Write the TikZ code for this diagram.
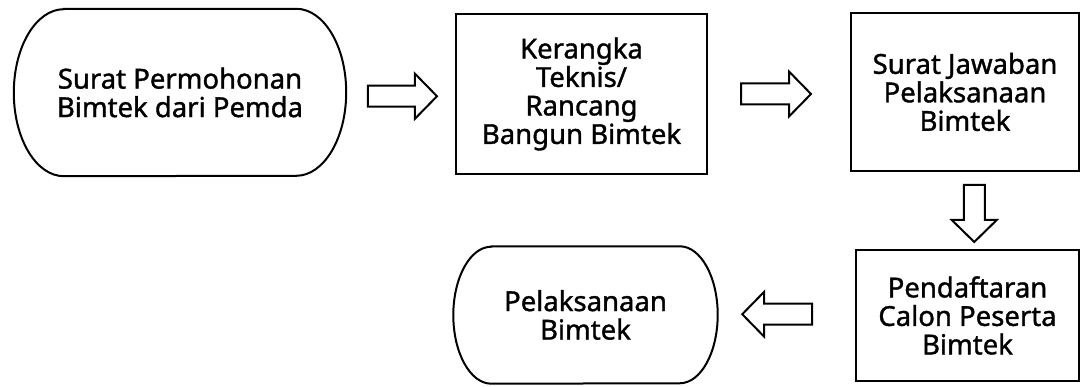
\documentclass[tikz,border=0pt]{standalone}
\usepackage{fontspec}
\setmainfont{Noto Sans}[FakeBold=1.3]
\usepackage{tikz}
\usetikzlibrary{calc}

\begin{document}
\begin{tikzpicture}[x=1pt,y=1pt,
  box/.style={draw,line width=2.5pt,align=center,inner sep=0pt},
  term/.style={align=center,inner sep=0pt},
  termline/.style={line width=2pt},
  blockarrow/.pic={
    \draw[line width=2pt,fill=white,line join=miter]
      (-#1/2,-10.5) -- (#1/2-22,-10.5) -- (#1/2-22,-22.5) -- (#1/2,0)
      -- (#1/2-22,22.5) -- (#1/2-22,10.5) -- (-#1/2,10.5) -- cycle;
  }]
\fontsize{27.5}{28.5}\selectfont
\useasboundingbox (0,0) rectangle (1082,387);

\node[term,minimum width=332,minimum height=167] (perm) at (180,294.5) {Surat Permohonan\\Bimtek dari Pemda};
\draw[termline] ([xshift=50]perm.north west) -- ([xshift=-50]perm.north east)
  arc[start angle=90,end angle=-90,x radius=50,y radius=83.5]
  -- ([xshift=50]perm.south west)
  arc[start angle=270,end angle=90,x radius=50,y radius=83.5] -- cycle;

\node[box,minimum width=251,minimum height=160] (rancang) at (581.5,293) {Kerangka\\Teknis/\\Rancang\\Bangun Bimtek};
\node[box,minimum width=228,minimum height=158] (jawab) at (965,295) {Surat Jawaban\\Pelaksanaan\\Bimtek};
\node[box,minimum width=223,minimum height=131] (daftar) at (967.5,71.5) {Pendaftaran\\Calon Peserta\\Bimtek};

\node[term,minimum width=264,minimum height=137] (laksana) at (585.5,72) {Pelaksanaan\\Bimtek};
\draw[termline] ([xshift=38]laksana.north west) -- ([xshift=-38]laksana.north east)
  arc[start angle=90,end angle=-90,x radius=38,y radius=68.5]
  -- ([xshift=38]laksana.south west)
  arc[start angle=270,end angle=90,x radius=38,y radius=68.5] -- cycle;

% arrows between steps
\pic at ($(perm.east)!0.5!(rancang.west)+(2,-3)$) {blockarrow=69};
\pic at ($(rancang.east)!0.5!(jawab.west)+(-3,-1)$) {blockarrow=70};
\pic[rotate=-90] at ($(jawab.south)!0.5!(daftar.north)+(8,-3)$) {blockarrow=57};
\pic[rotate=180] at ($(laksana.east)!0.5!(daftar.west)+(-9,1)$) {blockarrow=70};
\end{tikzpicture}
\end{document}
